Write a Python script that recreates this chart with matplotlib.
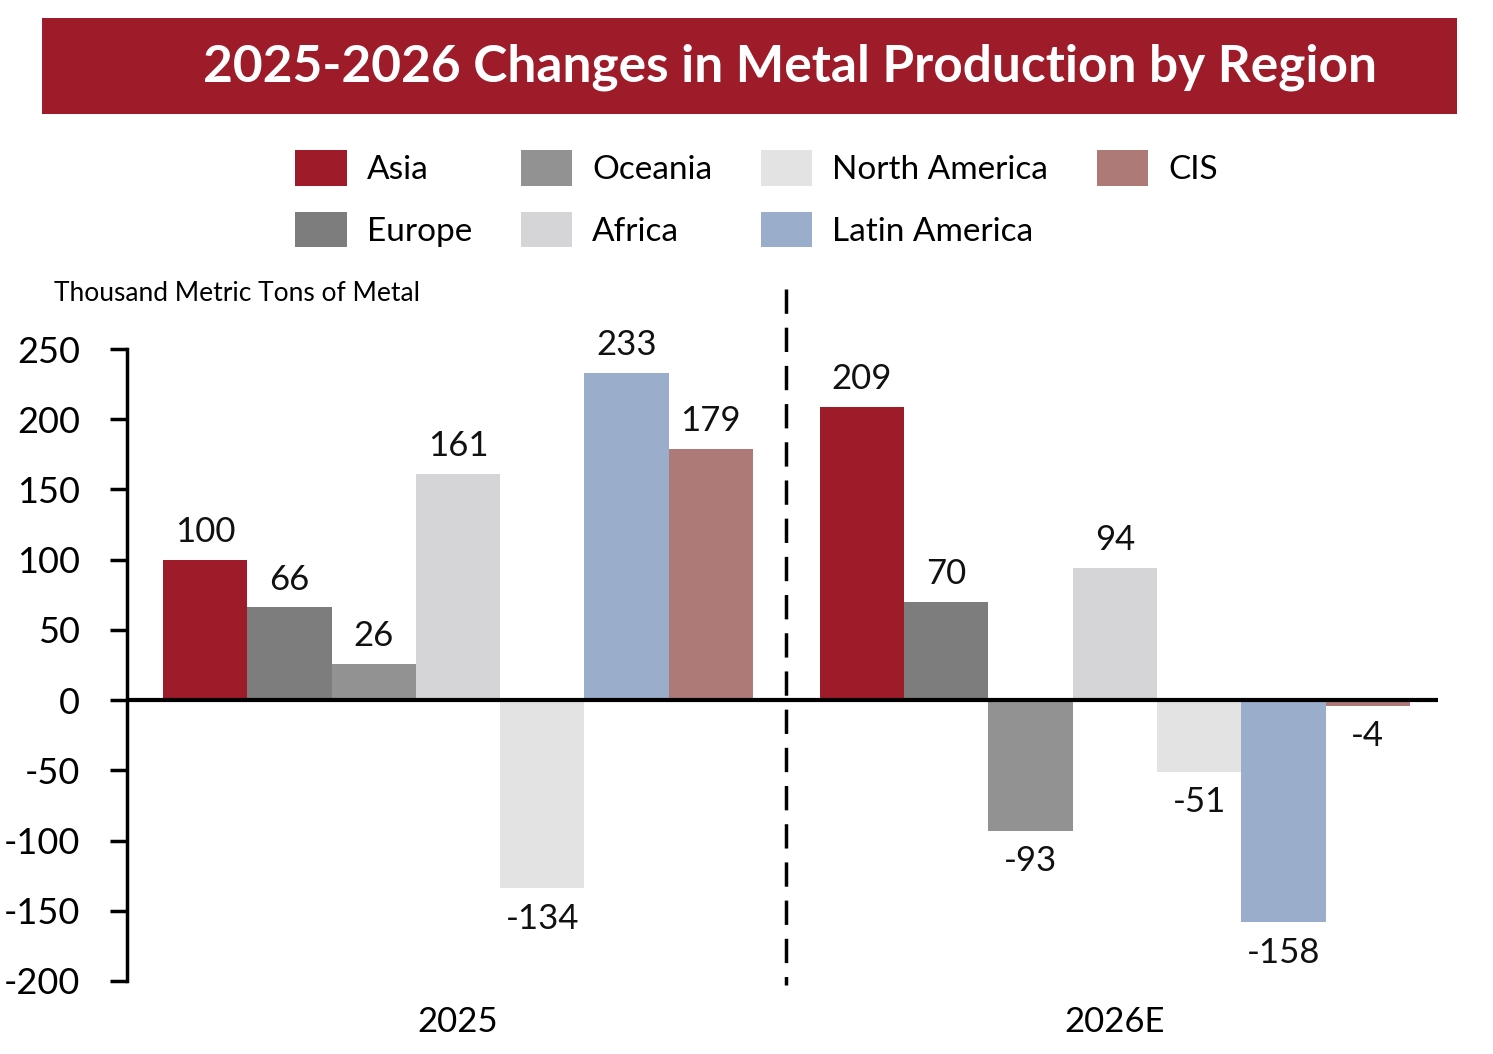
import matplotlib
matplotlib.use("Agg")
import matplotlib.pyplot as plt
from matplotlib import font_manager
from matplotlib.patches import Patch, Rectangle
import numpy as np

avail = {f.name for f in font_manager.fontManager.ttflist}
fam = [f for f in ["Liberation Sans Narrow", "Lato", "DejaVu Sans"] if f in avail]
plt.rcParams['font.family'] = fam

groups = ["2025", "2026E"]
regions = ["Asia", "Europe", "Oceania", "Africa", "North America", "Latin America", "CIS"]
values = {
    "Asia": [100, 209],
    "Europe": [66, 70],
    "Oceania": [26, -93],
    "Africa": [161, 94],
    "North America": [-134, -51],
    "Latin America": [233, -158],
    "CIS": [179, -4],
}
colors = {
    "Asia": "#9e1b2a",
    "Europe": "#7d7d7d",
    "Oceania": "#929292",
    "Africa": "#d5d5d7",
    "North America": "#e3e3e3",
    "Latin America": "#9aadca",
    "CIS": "#ae7a78",
}
yticks = [250, 200, 150, 100, 50, 0, -50, -100, -150, -200]
title = "2025-2026 Changes in Metal Production by Region"
ylabel = "Thousand Metric Tons of Metal"

W, H = 1493, 1054
fig = plt.figure(figsize=(W / 100, H / 100), dpi=100)
fig.patch.set_facecolor("white")

ax = fig.add_axes([127 / W, 1 - 981 / H, (1438 - 127) / W, (981 - 349) / H])
ax.set_facecolor("white")

x = np.arange(len(groups))
n = len(regions)
bw = 0.1283
for i, r in enumerate(regions):
    pos = x + (i - (n - 1) / 2) * bw
    vals = values[r]
    ax.bar(pos, vals, width=bw, color=colors[r], zorder=2)
    for p, v in zip(pos, vals):
        if v >= 0:
            ax.annotate(f"{v}", (p, v), xytext=(0, 20), textcoords="offset points",
                        ha="center", va="center", fontsize=25, color="#111111")
        else:
            ax.annotate(f"{v}", (p, v), xytext=(0, -22), textcoords="offset points",
                        ha="center", va="center", fontsize=25, color="#111111")

ax.set_xlim(-0.504, 1.492)
ax.set_ylim(-200, 250)
ax.axhline(0, color="black", lw=3, zorder=3)
ax.plot([0.5, 0.5], [293, -203], color="black", lw=2.5, ls=(0, (7, 4)),
        clip_on=False, zorder=3)

for s in ["top", "right", "bottom"]:
    ax.spines[s].set_visible(False)
ax.spines["left"].set_linewidth(2.5)
ax.spines["left"].set_bounds(-200, 250)
ax.set_yticks(yticks)
ax.set_yticklabels([str(t) for t in yticks])
ax.tick_params(axis="y", length=12, width=2.5, labelsize=26, pad=22, colors="black")
ax.set_xticks(x)
ax.set_xticklabels(groups)
ax.tick_params(axis="x", length=0, labelsize=25, pad=18)

fig.text(54 / W, 1 - 293 / H, ylabel, fontsize=19, ha="left", va="center")

# title banner
fig.patches.append(Rectangle((42 / W, 1 - 114 / H), (1457 - 42) / W, (114 - 18) / H,
                             transform=fig.transFigure, facecolor="#9e1b2a",
                             edgecolor="none", zorder=0))
fig.text(790 / W, 1 - 67 / H, title, fontsize=37, fontweight="bold", color="white",
         ha="center", va="center", family=["Lato", "DejaVu Sans"])

handles = [Patch(facecolor=colors[r], edgecolor="none", label=r) for r in regions]
fig.legend(handles=handles, ncol=4, loc="upper left",
           bbox_to_anchor=(272 / W, 1 - 127 / H), frameon=False, fontsize=24,
           handlelength=1.55, handleheight=1.25, handletextpad=0.6,
           columnspacing=1.45, labelspacing=0.8, borderpad=0.2)

fig.savefig("out.png", dpi=100, facecolor="white")
